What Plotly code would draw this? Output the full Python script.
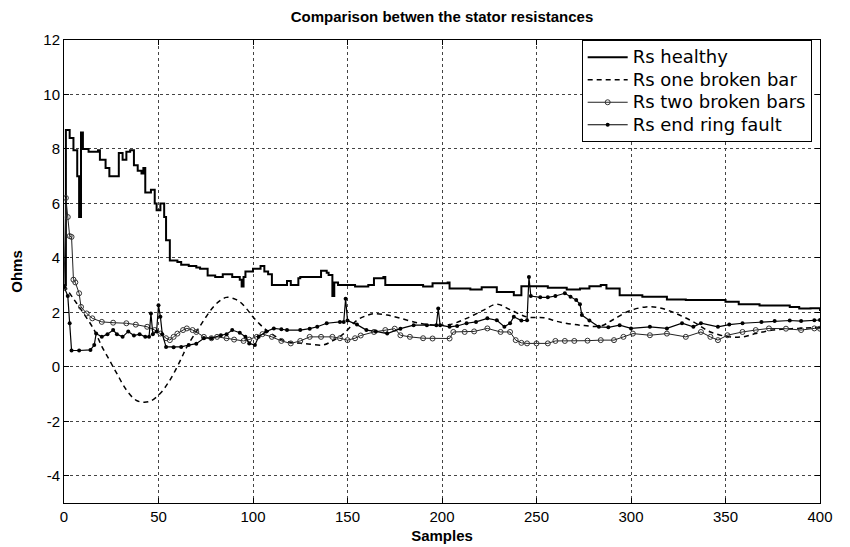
import plotly.graph_objects as go

# Rs healthy
healthy_x = [0, 1, 3, 5, 7, 8, 9, 10, 13, 18, 19, 22, 24, 28, 29, 31, 33, 35, 37, 39,
             41, 42, 43, 46, 48, 49, 51, 53, 54, 56, 60, 62, 66, 70, 72, 76, 80, 84, 89, 93,
             94, 95, 96, 100, 104, 106, 108, 110, 116, 118, 120, 124, 125, 133, 136, 139, 140, 142, 143, 145,
             154, 161, 164, 169, 170, 180, 190, 195, 203, 204, 215, 221, 229, 238, 242, 247, 256, 266, 273, 278,
             284, 287, 294, 306, 319, 329, 350, 357, 368, 384, 389, 395, 400]
healthy_y = [3.0, 8.7, 8.4, 7.95, 7.0, 5.5, 8.6, 8.0, 7.9, 7.95, 7.6, 7.3, 7.0, 7.0, 7.85, 7.6, 7.9, 7.95, 7.4, 7.2,
             7.1, 7.3, 6.4, 6.5, 6.0, 5.75, 6.0, 5.5, 4.65, 3.9, 3.85, 3.75, 3.7, 3.65, 3.6, 3.35, 3.3, 3.4, 3.3, 3.2,
             2.95, 3.3, 3.5, 3.6, 3.7, 3.5, 3.4, 3.0, 3.0, 3.15, 3.0, 3.25, 3.3, 3.3, 3.53, 3.45, 3.37, 2.6, 3.1, 3.0,
             2.95, 3.0, 3.25, 3.3, 3.0, 3.0, 2.95, 3.07, 3.1, 2.88, 2.84, 2.92, 2.75, 2.63, 2.96, 2.96, 2.9, 2.84, 2.88, 2.96,
             3.0, 2.88, 2.63, 2.57, 2.47, 2.45, 2.39, 2.3, 2.25, 2.2, 2.14, 2.15, 2.05]

# Rs one broken bar
onebar_x = [0, 5, 10, 16, 20, 24, 28, 33, 38, 42, 46, 51, 55, 58, 62, 65, 72, 79, 83, 86,
            90, 93, 97, 100, 105, 110, 115, 120, 128, 137, 142, 148, 155, 160, 164, 171, 178, 188, 196, 204,
            213, 222, 229, 236, 245, 254, 262, 273, 284, 290, 299, 308, 315, 324, 333, 342, 352, 359, 366, 375,
            385, 400]
onebar_y = [3.0, 2.5, 2.0, 1.35, 0.75, 0.25, -0.25, -0.85, -1.22, -1.3, -1.25, -0.97, -0.6, -0.25, 0.3, 0.73, 1.5, 2.2, 2.45, 2.55,
            2.5, 2.39, 2.1, 1.83, 1.47, 1.2, 1.0, 0.9, 0.85, 0.8, 0.95, 1.22, 1.71, 1.88, 1.95, 1.9, 1.78, 1.6, 1.53, 1.55,
            1.78, 2.08, 2.3, 2.1, 1.83, 1.8, 1.65, 1.53, 1.5, 1.71, 2.05, 2.2, 2.17, 1.95, 1.65, 1.28, 1.1, 1.1, 1.22, 1.35,
            1.4, 1.45]

# Rs two broken bars
twobar_x = [0, 1, 2, 3, 4, 5, 6, 8, 9, 12, 15, 20, 26, 33, 38, 44, 48, 51, 54, 56,
            58, 60, 63, 65, 68, 70, 74, 78, 81, 86, 90, 95, 98, 102, 105, 110, 115, 120, 125, 130,
            136, 142, 146, 150, 154, 157, 164, 170, 175, 178, 183, 190, 195, 204, 206, 212, 217, 224, 231, 236,
            239, 242, 245, 250, 256, 260, 265, 270, 277, 284, 291, 296, 301, 310, 319, 329, 337, 342, 346, 351,
            359, 366, 373, 382, 390, 397, 400]
twobar_y = [2.9, 6.2, 5.5, 4.8, 4.77, 3.2, 3.1, 2.7, 2.2, 1.96, 1.78, 1.65, 1.62, 1.6, 1.55, 1.47, 1.35, 1.22, 1.05, 0.98,
            1.1, 1.22, 1.35, 1.41, 1.35, 1.28, 1.1, 1.05, 1.1, 1.05, 1.0, 0.95, 1.0, 1.1, 1.2, 1.1, 0.95, 0.86, 0.95, 1.1,
            1.1, 1.1, 1.05, 0.98, 1.05, 1.15, 1.28, 1.35, 1.4, 1.16, 1.1, 1.05, 1.04, 1.04, 1.28, 1.28, 1.3, 1.41, 1.28, 1.28,
            0.98, 0.88, 0.86, 0.86, 0.86, 0.95, 0.95, 0.95, 0.96, 0.98, 0.98, 1.1, 1.22, 1.16, 1.22, 1.1, 1.28, 1.1, 0.98, 1.16,
            1.28, 1.35, 1.41, 1.4, 1.35, 1.41, 1.4]

# Rs end ring fault
ring_x = [0, 2, 3, 4, 8, 14, 16, 17, 20, 23, 26, 28, 31, 34, 37, 40, 43, 45, 46, 47,
          49, 50, 51, 52, 54, 58, 62, 66, 70, 74, 78, 83, 86, 89, 93, 96, 98, 101, 103, 107,
          111, 115, 118, 125, 130, 134, 139, 146, 148, 149, 150, 155, 160, 165, 171, 178, 185, 192, 197, 198,
          199, 204, 208, 213, 218, 224, 229, 233, 236, 238, 242, 245, 246, 247, 252, 256, 260, 265, 268, 271,
          273, 274, 278, 283, 288, 294, 300, 310, 319, 327, 333, 337, 346, 352, 359, 369, 376, 384, 390, 397,
          400]
ring_y = [2.94, 2.6, 1.6, 0.6, 0.6, 0.62, 0.8, 1.22, 1.1, 1.2, 1.35, 1.2, 1.1, 1.3, 1.15, 1.2, 1.1, 1.1, 1.96, 1.2,
          1.3, 2.26, 1.84, 1.2, 0.73, 0.72, 0.73, 0.8, 0.85, 1.05, 1.05, 1.16, 1.2, 1.35, 1.25, 1.1, 0.86, 0.8, 1.1, 1.3,
          1.41, 1.38, 1.35, 1.35, 1.4, 1.47, 1.6, 1.65, 1.65, 2.5, 1.7, 1.55, 1.35, 1.3, 1.22, 1.4, 1.53, 1.53, 1.53, 2.14,
          1.53, 1.47, 1.5, 1.6, 1.65, 1.78, 1.71, 1.47, 1.6, 1.84, 1.7, 1.71, 3.3, 2.6, 2.55, 2.55, 2.6, 2.7, 2.57, 2.45,
          2.3, 1.9, 1.7, 1.47, 1.45, 1.53, 1.41, 1.47, 1.41, 1.6, 1.47, 1.6, 1.47, 1.55, 1.6, 1.65, 1.68, 1.7, 1.68, 1.71,
          1.72]

x_ticks = [0, 50, 100, 150, 200, 250, 300, 350, 400]
y_ticks = [-4, -2, 0, 2, 4, 6, 8, 10, 12]
y_tick_labels = ['-4', '-2', '0', '2', '4', '6', '8', '10', '12']

FONT = 'Liberation Sans, Arial, sans-serif'
NARROW = 'Liberation Sans Narrow, Arial Narrow, Liberation Sans, sans-serif'


def legend_name(s):
    # bigger text than the legend row height would normally allow (tight MATLAB legend)
    return '<span style="font-size:18px">' + s + '</span>'


fig = go.Figure()
fig.add_trace(go.Scatter(x=healthy_x, y=healthy_y, mode='lines', name=legend_name('Rs healthy'),
                         line=dict(color='black', width=2, shape='hv')))
fig.add_trace(go.Scatter(x=onebar_x, y=onebar_y, mode='lines', name=legend_name('Rs one broken bar'),
                         line=dict(color='black', width=1.5, dash='5px,4px', shape='spline')))
fig.add_trace(go.Scatter(x=twobar_x, y=twobar_y, mode='lines+markers', name=legend_name('Rs two broken bars'),
                         line=dict(color='#222', width=1),
                         marker=dict(symbol='circle-open', size=5, color='#333', line=dict(width=1))))
fig.add_trace(go.Scatter(x=ring_x, y=ring_y, mode='lines+markers', name=legend_name('Rs end ring fault'),
                         line=dict(color='black', width=1.2),
                         marker=dict(symbol='circle', size=4, color='black')))

axis_common = dict(showline=True, linecolor='black', linewidth=1, mirror='ticks',
                   ticks='inside', ticklen=5, tickcolor='black', automargin=False,
                   showgrid=True, gridcolor='#444', griddash='3px,3px', gridwidth=1,
                   zeroline=False, tickfont=dict(family=NARROW, size=15, color='black'))

fig.update_xaxes(range=[0, 400], tickvals=x_ticks,
                 title=dict(text='<b>Samples</b>', standoff=6,
                            font=dict(family=FONT, size=15, color='black')),
                 **axis_common)
fig.update_yaxes(range=[-5, 12], tickvals=y_ticks, ticktext=y_tick_labels,
                 title=dict(text='<b>Ohms</b>', standoff=20,
                            font=dict(family=FONT, size=15, color='black')),
                 **axis_common)

# page body has an 8px margin, so the figure is sized to land the axes where the reference has them
fig.update_layout(
    width=842, height=539,
    margin=dict(l=56, r=30, t=32, b=44),
    paper_bgcolor='white', plot_bgcolor='white',
    title=dict(text='<b>Comparison betwen the stator resistances</b>', x=0.5, xref='paper',
               y=0.984, yanchor='middle',
               font=dict(family=FONT, size=15, color='black')),
    legend=dict(x=0.989, y=1, xanchor='right', yanchor='top', bgcolor='white',
                bordercolor='black', borderwidth=1, tracegroupgap=0, itemwidth=40,
                font=dict(family='DejaVu Sans, Verdana, sans-serif', size=15, color='black')),
    showlegend=True,
)

fig.write_html("out.html")
